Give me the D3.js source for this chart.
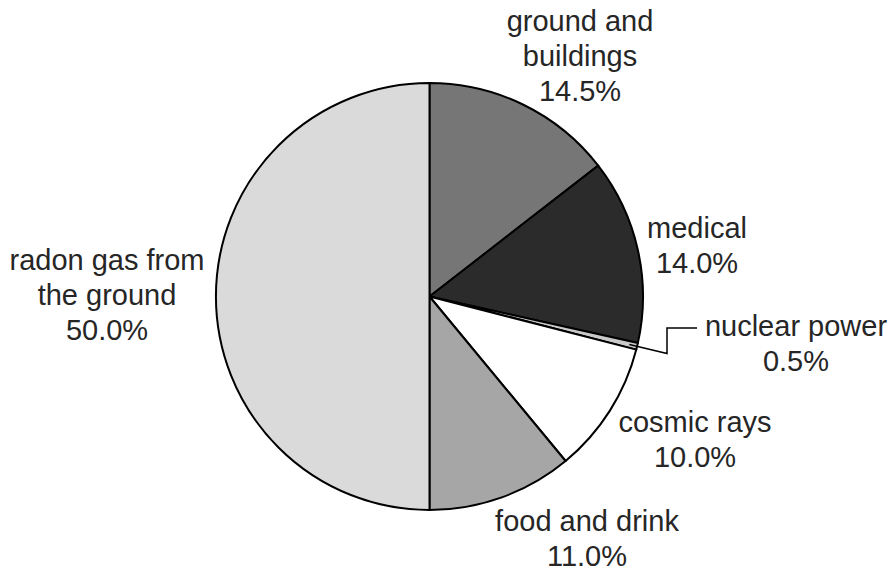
<!DOCTYPE html>
<html>
<head>
<meta charset="utf-8">
<script src="https://cdn.jsdelivr.net/npm/d3@7"></script>
<style>
  body { margin: 0; background: #fff; }
  text { font-family: "Liberation Sans", Arial, Helvetica, sans-serif; fill: #262626; }
</style>
</head>
<body>
<div id="chart"></div>
<script>
// slice data, clockwise from 12 o'clock
const categories = ['ground and buildings', 'medical', 'nuclear power', 'cosmic rays', 'food and drink', 'radon gas from the ground'];
const values = [14.5, 14.0, 0.5, 10.0, 11.0, 50.0];
const colors = ['#767676', '#2b2b2b', '#c9c9c9', '#ffffff', '#a6a6a6', '#dadada'];
const labelLines = [
  ['ground and', 'buildings', '14.5%'],
  ['medical', '14.0%'],
  ['nuclear power', '0.5%'],
  ['cosmic rays', '10.0%'],
  ['food and drink', '11.0%'],
  ['radon gas from', 'the ground', '50.0%']
];

const width = 891, height = 571;
const cx = 429.5, cy = 296.5, radius = 213.5;
const lineHeight = 35;

// label anchor: center x and first baseline y
const labelPos = [
  {x: 580, y: 31},
  {x: 697, y: 238},
  {x: 796, y: 336},
  {x: 695, y: 432},
  {x: 587, y: 531},
  {x: 107, y: 270}
];

const svg = d3.select('#chart').append('svg')
    .attr('width', width)
    .attr('height', height);

const g = svg.append('g')
    .attr('transform', `translate(${cx},${cy})`);

const pie = d3.pie().sort(null).value(d => d);
const arcs = pie(values);

const arc = d3.arc().innerRadius(0).outerRadius(radius);

g.selectAll('path.slice')
  .data(arcs)
  .enter().append('path')
    .attr('class', 'slice')
    .attr('d', arc)
    .attr('fill', (d, i) => colors[i])
    .attr('stroke', '#000')
    .attr('stroke-width', 2)
    .attr('stroke-linejoin', 'round');

// leader line for the tiny nuclear power slice
const nuc = arcs[2];
const mid = (nuc.startAngle + nuc.endAngle) / 2;
const dx = Math.sin(mid), dy = -Math.cos(mid);
const r0 = radius - 8;
const elbowX = 667 - cx;
const t = elbowX / dx;
const leader = [
  [r0 * dx, r0 * dy],
  [elbowX, t * dy],
  [elbowX, 328 - cy],
  [697 - cx, 328 - cy]
];
g.append('path')
    .attr('d', d3.line()(leader))
    .attr('fill', 'none')
    .attr('stroke', '#000')
    .attr('stroke-width', 1.5);

// labels
const labels = svg.selectAll('text.label')
  .data(labelLines)
  .enter().append('text')
    .attr('class', 'label')
    .attr('text-anchor', 'middle')
    .attr('font-size', 29)
    .attr('x', (d, i) => labelPos[i].x)
    .attr('y', (d, i) => labelPos[i].y);

labels.selectAll('tspan')
  .data((d, i) => d.map(s => ({s, i})))
  .enter().append('tspan')
    .attr('x', d => labelPos[d.i].x)
    .attr('dy', (d, j) => j === 0 ? 0 : lineHeight)
    .text(d => d.s);
</script>
</body>
</html>
